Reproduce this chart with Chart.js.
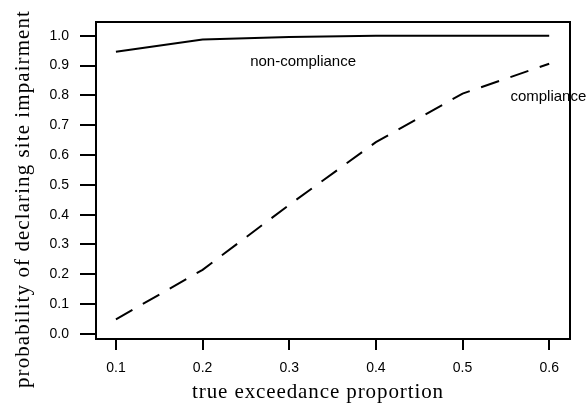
<!DOCTYPE html>
<html>
<head>
<meta charset="utf-8">
<script src="https://cdn.jsdelivr.net/npm/chart.js@4/dist/chart.umd.min.js"></script>
<style>
  html, body { margin: 0; padding: 0; background: #fff; }
  #wrap { width: 586px; height: 406px; }
</style>
</head>
<body>
<div id="wrap"><canvas id="chart" width="586" height="406"></canvas></div>
<script>
// true exceedance proportion
const proportions = [0.1, 0.2, 0.3, 0.4, 0.5, 0.6];
// probability of declaring impairment
const nonCompliance = [0.946, 0.987, 0.996, 1.0, 1.0, 1.0];
const compliance = [0.049, 0.215, 0.433, 0.643, 0.806, 0.906];

const xTicks = [0.1, 0.2, 0.3, 0.4, 0.5, 0.6];
const yTicks = [0.0, 0.1, 0.2, 0.3, 0.4, 0.5, 0.6, 0.7, 0.8, 0.9, 1.0];

// curve labels, placed in data coordinates
const curveLabels = ['non-compliance', 'compliance'];
const curveLabelX = [0.316, 0.599];
const curveLabelY = [0.913, 0.796];

const xTitle = 'true exceedance proportion';
const yTitle = 'probability of declaring site impairment';

const tickFont = { family: '"Liberation Sans", Arial, sans-serif', size: 14 };

const toPoints = (ys) => proportions.map((x, i) => ({ x: x, y: ys[i] }));

// frame round the plot area, curve labels and the serif axis titles
const framePlugin = {
  id: 'frame',
  afterDraw(chart) {
    const { ctx, chartArea: a, scales } = chart;
    ctx.save();
    ctx.strokeStyle = '#000';
    ctx.lineWidth = 2;
    ctx.strokeRect(a.left, a.top, a.right - a.left, a.bottom - a.top);

    ctx.fillStyle = '#000';
    ctx.font = '15px "Liberation Sans", Arial, sans-serif';
    ctx.textAlign = 'center';
    ctx.textBaseline = 'middle';
    curveLabels.forEach((txt, i) => {
      ctx.fillText(txt, scales.x.getPixelForValue(curveLabelX[i]), scales.y.getPixelForValue(curveLabelY[i]));
    });

    ctx.font = '21px "Liberation Serif"';
    ctx.textBaseline = 'alphabetic';
    const spaced = (txt, len) => {
      ctx.letterSpacing = '0px';
      const w = ctx.measureText(txt).width;
      ctx.letterSpacing = ((len - w) / (txt.length - 1)).toFixed(2) + 'px';
    };
    spaced(xTitle, 251);
    ctx.fillText(xTitle, 318, 398);

    spaced(yTitle, 377);
    ctx.translate(29, 199);
    ctx.rotate(-Math.PI / 2);
    ctx.fillText(yTitle, 0, 0);
    ctx.restore();
  }
};

new Chart(document.getElementById('chart'), {
  type: 'line',
  data: {
    datasets: [
      {
        label: 'non-compliance',
        data: toPoints(nonCompliance),
        borderColor: '#000',
        borderWidth: 2,
        pointRadius: 0,
        tension: 0
      },
      {
        label: 'compliance',
        data: toPoints(compliance),
        borderColor: '#000',
        borderWidth: 2,
        borderDash: [19, 12],
        pointRadius: 0,
        tension: 0
      }
    ]
  },
  options: {
    responsive: false,
    animation: false,
    layout: { padding: { top: 22, right: 16, left: 0, bottom: 0 } },
    plugins: { legend: { display: false }, tooltip: { enabled: false } },
    scales: {
      x: {
        type: 'linear',
        min: 0.077,
        max: 0.624,
        afterBuildTicks: (s) => { s.ticks = xTicks.map(v => ({ value: v })); },
        afterFit: (s) => { s.height = 67; },
        ticks: {
          font: tickFont,
          color: '#000',
          padding: 10,
          maxRotation: 0,
          autoSkip: false,
          callback: (v) => v.toFixed(1)
        },
        grid: { drawOnChartArea: false, drawTicks: true, tickLength: 11, color: '#000', lineWidth: 2 },
        border: { display: false }
      },
      y: {
        min: -0.017,
        max: 1.046,
        afterBuildTicks: (s) => { s.ticks = yTicks.map(v => ({ value: v })); },
        afterFit: (s) => { s.width = 96; },
        ticks: {
          font: tickFont,
          color: '#000',
          padding: 11,
          autoSkip: false,
          callback: (v) => v.toFixed(1)
        },
        grid: { drawOnChartArea: false, drawTicks: true, tickLength: 16, color: '#000', lineWidth: 2 },
        border: { display: false }
      }
    }
  },
  plugins: [framePlugin]
});
</script>
</body>
</html>
